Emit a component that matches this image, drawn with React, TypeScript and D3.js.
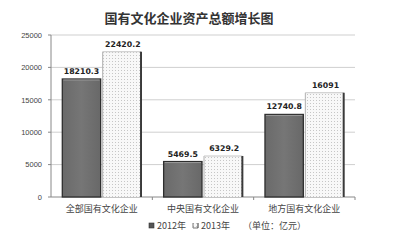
import React from "react";
import * as d3 from "d3";

const categories = ["全部国有文化企业", "中央国有文化企业", "地方国有文化企业"];
const seriesNames = ["2012年", "2013年"];
const values2012 = [18210.3, 5469.5, 12740.8];
const values2013 = [22420.2, 6329.2, 16091];
const yTicks = [0, 5000, 10000, 15000, 20000, 25000];
const title = "国有文化企业资产总额增长图";
const unitNote = "（单位：亿元）";

const W = 399;
const H = 245;
const left = 51;
const right = 355;
const top = 35;
const bottom = 197;

export default function App() {
  const x = d3.scaleBand<string>().domain(categories).range([left, right]).padding(0);
  const inner = d3
    .scaleBand<string>()
    .domain(seriesNames)
    .range([0, x.bandwidth()])
    .paddingInner(0.05)
    .paddingOuter(0.28);
  const y = d3.scaleLinear().domain([0, 25000]).range([bottom, top]);
  const bw = inner.bandwidth();
  const numFont = "'DejaVu Sans', sans-serif";
  const cjk = "'Noto Sans CJK SC', sans-serif";

  return (
    <div style={{ position: "absolute", left: 0, top: 0 }}>
      <svg width={W} height={H} style={{ display: "block", background: "#fff" }}>
        <defs>
          <pattern id="dots" width="3" height="3" patternUnits="userSpaceOnUse">
            <rect width="3" height="3" fill="#f8f8f8" />
            <rect x="1" y="1" width="1" height="1" fill="#c6c6c6" />
          </pattern>
          <linearGradient id="darkg" x1="0" x2="1" y1="0" y2="0">
            <stop offset="0" stopColor="#6a6a6a" />
            <stop offset="0.5" stopColor="#767676" />
            <stop offset="1" stopColor="#686868" />
          </linearGradient>
        </defs>
        <text
          x={189}
          y={23}
          textAnchor="middle"
          fontFamily={cjk}
          fontWeight="bold"
          fontSize={13}
          fill="#333"
        >
          {title}
        </text>
        {yTicks.map((t) => (
          <g key={t}>
            {t > 0 && (
              <line x1={left} x2={right} y1={y(t)} y2={y(t)} stroke="#cfcfcf" strokeWidth={1} />
            )}
            <line x1={left - 3} x2={left} y1={y(t)} y2={y(t)} stroke="#888" strokeWidth={1} />
            <text
              x={42}
              y={y(t) + 2.7}
              textAnchor="end"
              fontFamily="'Liberation Sans', Arial, sans-serif"
              fontSize={7.5}
              fill="#444"
            >
              {t}
            </text>
          </g>
        ))}
        <line x1={left} x2={left} y1={top} y2={bottom} stroke="#888" strokeWidth={1} />
        <line x1={left} x2={right} y1={bottom} y2={bottom} stroke="#888" strokeWidth={1} />
        {categories.map((c) => (
          <line
            key={"tk" + c}
            x1={(x(c) as number) + x.bandwidth()}
            x2={(x(c) as number) + x.bandwidth()}
            y1={bottom}
            y2={bottom + 3}
            stroke="#888"
          />
        ))}
        {categories.map((c, i) => {
          const gx = x(c) as number;
          const x0 = gx + (inner(seriesNames[0]) as number);
          const x1 = gx + (inner(seriesNames[1]) as number);
          const v0 = values2012[i];
          const v1 = values2013[i];
          return (
            <g key={c}>
              <rect
                x={x0}
                y={y(v0)}
                width={bw}
                height={bottom - y(v0)}
                fill="url(#darkg)"
                stroke="#2e2e2e"
                strokeWidth={1.3}
              />
              <line x1={x0 + 1} x2={x0 + bw - 1} y1={y(v0) + 1} y2={y(v0) + 1} stroke="#9a9a9a" />
              <rect x={x1} y={y(v1)} width={bw} height={bottom - y(v1)} fill="url(#dots)" />
              <line x1={x1} x2={x1} y1={y(v1)} y2={bottom} stroke="#b0b0b0" strokeWidth={1} />
              <line x1={x1} x2={x1 + bw} y1={y(v1)} y2={y(v1)} stroke="#c8c8c8" strokeWidth={1} />
              <line x1={x1 + bw} x2={x1 + bw} y1={y(v1)} y2={bottom} stroke="#3a3a3a" strokeWidth={2} />
              <text
                x={x0 + bw / 2}
                y={y(v0) - 5}
                textAnchor="middle"
                fontFamily={numFont}
                fontWeight="bold"
                fontSize={7.8}
                fill="#222"
              >
                {String(v0)}
              </text>
              <text
                x={x1 + bw / 2 + 1}
                y={y(v1) - 5}
                textAnchor="middle"
                fontFamily={numFont}
                fontWeight="bold"
                fontSize={7.8}
                fill="#222"
              >
                {String(v1)}
              </text>
              <text
                x={gx + x.bandwidth() / 2}
                y={212}
                textAnchor="middle"
                fontFamily={cjk}
                fontSize={9}
                fill="#444"
              >
                {c}
              </text>
            </g>
          );
        })}
        <rect x={149} y={223} width={5} height={5} fill="#555" stroke="#333" strokeWidth={0.6} />
        <text x={157} y={229} fontFamily={cjk} fontSize={9} fill="#444">
          {seriesNames[0]}
        </text>
        <rect x={193} y={223} width={5} height={5} fill="url(#dots)" />
        <line x1={193} x2={193} y1={223} y2={228} stroke="#777" />
        <line x1={193} x2={198} y1={228} y2={228} stroke="#777" />
        <line x1={198} x2={198} y1={223} y2={228} stroke="#333" />
        <text x={201} y={229} fontFamily={cjk} fontSize={9} fill="#444">
          {seriesNames[1]}
        </text>
        <text x={243} y={229} fontFamily={cjk} fontSize={9} fill="#444">
          {unitNote}
        </text>
      </svg>
    </div>
  );
}
